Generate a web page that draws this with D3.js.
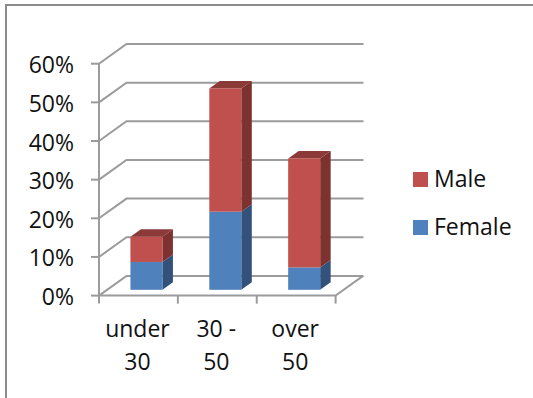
<!DOCTYPE html>
<html>
<head>
<meta charset="utf-8">
<script src="https://cdn.jsdelivr.net/npm/d3@7/dist/d3.min.js"></script>
<style>
html, body { margin: 0; padding: 0; background: #fff; }
svg { display: block; }
text { font-family: "Open Sans", Lato, sans-serif; fill: #111; }
</style>
</head>
<body>
<svg id="chart" width="533" height="398"></svg>
<script>
const ageGroups = ["under 30", "30 - 50", "over 50"];
const categoryLines = [["under", "30"], ["30 -", "50"], ["over", "50"]];
const femaleValues = [7.2, 20.2, 5.8];
const maleValues = [6.5, 31.9, 28.2];
const yTicks = [0, 10, 20, 30, 40, 50, 60];
const seriesNames = ["Female", "Male"];

const palette = {
  Male: { front: "#c0504d", side: "#7d3230", top: "#8b3a38" },
  Female: { front: "#4f81bd", side: "#32527b", top: "#3a5f8c" }
};
const gridColor = "#9b9b9b";
const frameColor = "#8c8c8c";
const labelSize = 23;

// Oblique projection: the wall sits behind the front plane, the bars halfway in.
const wallDx = 27.5, wallDy = -19.7;
const barDepthX = 10.5, barDepthY = -7.5;
const barInsetX = 8, barInsetY = -5.8;
const barWidth = 32;

const svg = d3.select("#chart");
const x = d3.scaleBand().domain(ageGroups).range([99, 335.6]);
const y = d3.scaleLinear().domain([0, 60]).range([295.6, 63.7]);

const rows = ageGroups.map((g, i) => ({ group: g, Female: femaleValues[i], Male: maleValues[i] }));
const stacked = d3.stack().keys(seriesNames)(rows);

// Outer frame: only the top and left edges are drawn.
svg.append("path")
  .attr("d", d3.line()([[6, 398], [6, 5], [533, 5]]))
  .attr("fill", "none").attr("stroke", frameColor).attr("stroke-width", 2);

// Wall grid lines, each with its slanted return to the value axis.
const line = d3.line();
svg.append("g").selectAll("path").data(yTicks).join("path")
  .attr("d", t => line([
    [x.range()[0], y(t)],
    [x.range()[0] + wallDx, y(t) + wallDy],
    [x.range()[1] + wallDx + 0.4, y(t) + wallDy]
  ]))
  .attr("fill", "none").attr("stroke", gridColor).attr("stroke-width", 2);

// Front floor edge and its right-hand return.
svg.append("path")
  .attr("d", line([
    [x.range()[0], y(0)],
    [x.range()[1], y(0)],
    [x.range()[1] + wallDx, y(0) + wallDy]
  ]))
  .attr("fill", "none").attr("stroke", gridColor).attr("stroke-width", 2);

// Value axis and its tick marks.
svg.append("path")
  .attr("d", line([[x.range()[0], y(60)], [x.range()[0], y(0) + 8]]))
  .attr("fill", "none").attr("stroke", gridColor).attr("stroke-width", 2);
svg.append("g").selectAll("line").data(yTicks).join("line")
  .attr("x1", 91).attr("x2", x.range()[0])
  .attr("y1", t => y(t)).attr("y2", t => y(t))
  .attr("stroke", gridColor).attr("stroke-width", 2);

// Category tick marks along the floor edge.
const tickXs = ageGroups.map(g => x(g) + x.bandwidth());
svg.append("g").selectAll("line").data(tickXs).join("line")
  .attr("x1", d => d).attr("x2", d => d)
  .attr("y1", y(0)).attr("y2", y(0) + 8)
  .attr("stroke", gridColor).attr("stroke-width", 2);

// Stacked 3D columns: side and top faces first, then the front face.
const barG = svg.append("g");
stacked.forEach(layer => {
  const colors = palette[layer.key];
  layer.forEach((d, i) => {
    const g = ageGroups[i];
    const x0 = x(g) + x.bandwidth() / 2 - barWidth / 2 + barInsetX;
    const x1 = x0 + barWidth;
    const yBase = y(d[0]) + barInsetY;
    const yTop = y(d[1]) + barInsetY;
    barG.append("path")
      .attr("d", line([[x1, yBase], [x1 + barDepthX, yBase + barDepthY], [x1 + barDepthX, yTop + barDepthY], [x1, yTop]]) + "Z")
      .attr("fill", colors.side);
    if (layer.key === "Male") {
      barG.append("path")
        .attr("d", line([[x0, yTop], [x0 + barDepthX, yTop + barDepthY], [x1 + barDepthX, yTop + barDepthY], [x1, yTop]]) + "Z")
        .attr("fill", colors.top);
    }
    barG.append("rect")
      .attr("x", x0).attr("y", yTop)
      .attr("width", barWidth).attr("height", yBase - yTop)
      .attr("fill", colors.front);
  });
});

// Value axis labels.
svg.append("g").selectAll("text").data(yTicks).join("text")
  .attr("x", 74).attr("y", t => y(t) + 9.5)
  .attr("text-anchor", "end").attr("font-size", labelSize)
  .text(t => t + "%");

// Category labels, wrapped over two lines.
const catG = svg.append("g").selectAll("g").data(ageGroups).join("g");
catG.each(function (g, i) {
  d3.select(this).selectAll("text").data(categoryLines[i]).join("text")
    .attr("x", x(g) + x.bandwidth() / 2 - 1)
    .attr("y", (d, j) => 337 + j * 33)
    .attr("text-anchor", "middle").attr("font-size", labelSize)
    .text(d => d);
});

// Legend, with the top series listed first.
const legendOrder = ["Male", "Female"];
const legendY = d3.scalePoint().domain(legendOrder).range([172, 220]);
const legend = svg.append("g").selectAll("g").data(legendOrder).join("g")
  .attr("transform", d => `translate(413,${legendY(d)})`);
legend.append("rect").attr("width", 15).attr("height", 15).attr("fill", d => palette[d].front);
legend.append("text").attr("x", 21).attr("y", 15).attr("font-size", labelSize).text(d => d);
</script>
</body>
</html>
